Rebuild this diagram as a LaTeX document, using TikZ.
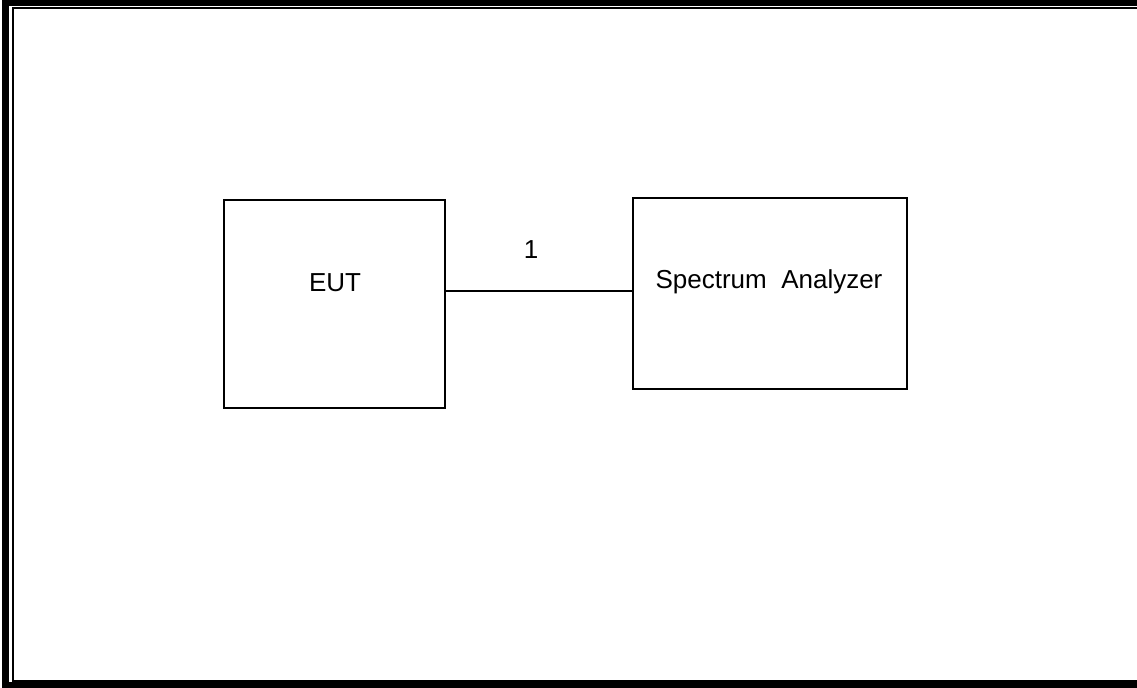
\documentclass[tikz,border=0pt]{standalone}
\usepackage{fontspec}
\setmainfont{Liberation Sans}
\usetikzlibrary{calc,positioning}
\tikzset{
  unitbox/.style={draw=black,line width=1.5pt,minimum width=#1},
  boxtext/.style={black,font=\fontsize{19.5}{23}\selectfont},
}

\begin{document}
\begin{tikzpicture}[x=0.75pt,y=-0.75pt]
\useasboundingbox (0,0) rectangle (1137,687);

% Draw page frame (thick outer and thin inner line).
\draw[line width=5pt] (1150,2.5) -- (5.5,2.5) -- (5.5,685) -- (1150,685);
\draw[line width=1.5pt] (1150,7.5) -- (13,7.5) -- (13,680.5) -- (1150,680.5);

% Draw the two boxes.
\node (eut) at (334.5,304) [unitbox=165.75pt,minimum height=156pt]{};
\node (sa) at (770,293.5) [unitbox=205.5pt,minimum height=143.25pt]{};
\node (euttext) at (335,283) [boxtext]{EUT};
\node (satext) at (769,282) [boxtext]{Spectrum\ \ Analyzer};

% Draw the connection.
\coordinate (saport) at ($(sa.west)+(0,-2.5)$);
\draw[line width=1.5pt] (eut.east |- saport) -- (saport);
\node (cable) at (531,250) [boxtext]{1};
\end{tikzpicture}
\end{document}
